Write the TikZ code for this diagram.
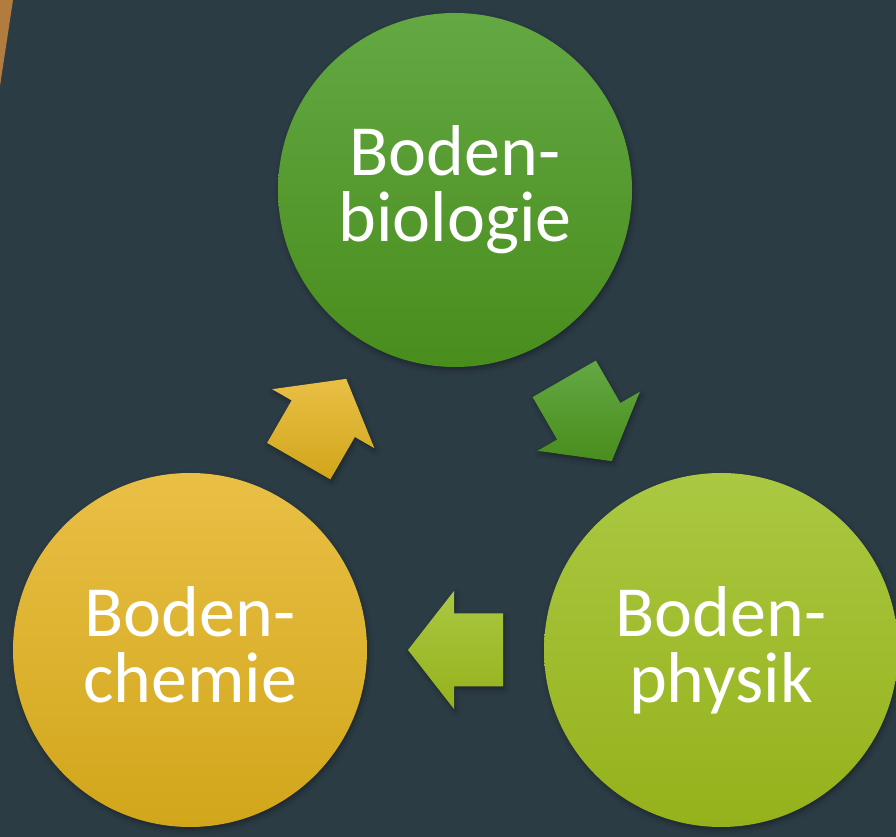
\documentclass[tikz,border=0pt]{standalone}
\usepackage{fontspec}
\setmainfont{Carlito}
\usetikzlibrary{calc,shadows.blur}
\definecolor{bg}{RGB}{44,60,69}
\definecolor{wood}{RGB}{178,124,62}
\definecolor{bioTop}{RGB}{99,168,67}
\definecolor{bioBot}{RGB}{73,141,29}
\definecolor{phyTop}{RGB}{170,200,66}
\definecolor{phyBot}{RGB}{149,177,27}
\definecolor{cheTop}{RGB}{233,191,70}
\definecolor{cheBot}{RGB}{209,166,26}
\newcommand\blockarrow[4]{%
  \path[shd, top color=#3, bottom color=#4]
    ($(#1)+(#2:47.5pt)$)
    -- ($(#1)+(#2:1.5pt)+(#2+90:59pt)$)
    -- ($(#1)+(#2:1.5pt)+(#2+90:36.5pt)$)
    -- ($(#1)+(#2:-47.5pt)+(#2+90:36.5pt)$)
    -- ($(#1)+(#2:-47.5pt)+(#2-90:36.5pt)$)
    -- ($(#1)+(#2:1.5pt)+(#2-90:36.5pt)$)
    -- ($(#1)+(#2:1.5pt)+(#2-90:59pt)$)
    -- cycle;}
\begin{document}
\begin{tikzpicture}[x=1pt,y=1pt,
  ball/.style={circle, minimum size=354pt, inner sep=0pt, draw=none},
  lbl/.style={text=white, font=\fontsize{72}{66}\selectfont, align=center, anchor=base, inner sep=0pt},
  shd/.style={blur shadow={shadow xshift=1.5pt, shadow yshift=-3pt, shadow blur radius=5pt, shadow opacity=35}}]
\fill[bg] (0,0) rectangle (896,837);
\useasboundingbox (0,0) rectangle (896,837);
\fill[wood] (0,837) -- (13,837) -- (0,751) -- cycle;
\node[ball, shd, top color=bioTop, bottom color=bioBot] (bio) at (455,647) {};
\node[ball, shd, top color=cheTop, bottom color=cheBot] (che) at (190,187) {};
\node[ball, shd, top color=phyTop, bottom color=phyBot] (phy) at (721,187) {};
\node[lbl] (bioT) at (455,595) {Boden-\\biologie};
\node[lbl] (cheT) at (190,134) {Boden-\\chemie};
\node[lbl] (phyT) at (721,134) {Boden-\\physik};
\coordinate (m1) at ($(bio)!0.5!(phy)$);
\coordinate (m2) at ($(phy)!0.5!(che)$);
\coordinate (m3) at ($(che)!0.5!(bio)$);
\blockarrow{m1}{-60}{bioTop}{bioBot}
\blockarrow{m2}{180}{phyTop}{phyBot}
\blockarrow{m3}{60}{cheTop}{cheBot}
\end{tikzpicture}
\end{document}
